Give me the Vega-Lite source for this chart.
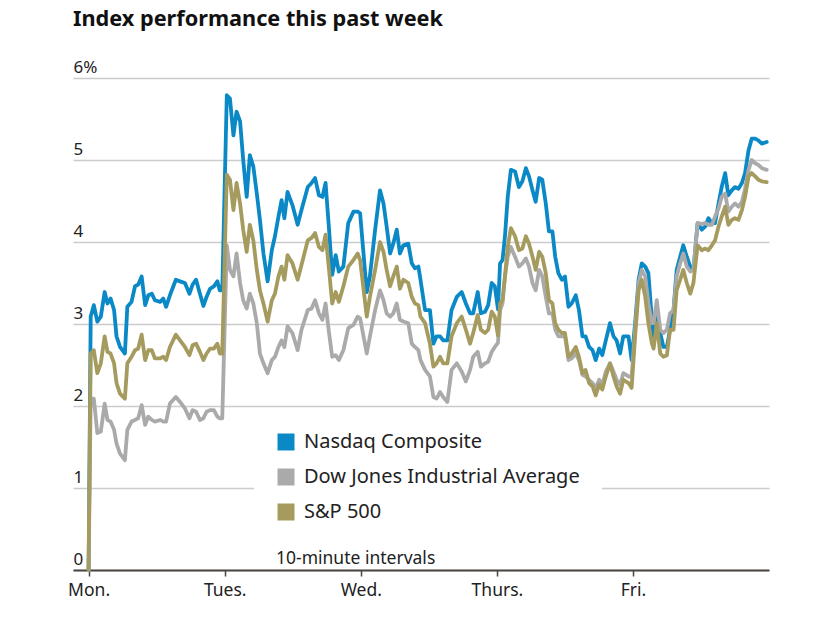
{
  "$schema": "https://vega.github.io/schema/vega-lite/v6.json",
  "autosize": "none",
  "width": 696,
  "height": 492,
  "padding": {"left": 73, "top": 78, "right": 53, "bottom": 47},
  "background": "white",
  "config": {
    "font": "Noto Sans",
    "view": {"stroke": null}
  },
  "title": {
    "text": "Index performance this past week",
    "anchor": "start",
    "frame": "group",
    "fontSize": 21.7,
    "fontWeight": "bold",
    "font": "Noto Sans",
    "color": "#111111",
    "offset": 27
  },
  "data": {
    "values": [
      {"t":0,"n":0,"d":0,"s":0},
      {"t":0.6,"n":3.09,"d":2.09,"s":2.64},
      {"t":1.5,"n":3.23,"d":2.09,"s":2.68},
      {"t":2.5,"n":3.03,"d":1.67,"s":2.40},
      {"t":3.5,"n":3.09,"d":1.69,"s":2.52},
      {"t":4.6,"n":3.39,"d":2.03,"s":2.85},
      {"t":5.4,"n":3.25,"d":1.83,"s":2.66},
      {"t":6.3,"n":3.31,"d":1.81,"s":2.64},
      {"t":7.3,"n":3.17,"d":1.71,"s":2.52},
      {"t":8.0,"n":2.85,"d":1.54,"s":2.28},
      {"t":9.0,"n":2.72,"d":1.42,"s":2.15},
      {"t":10.4,"n":2.64,"d":1.34,"s":2.09},
      {"t":11.1,"n":3.21,"d":1.71,"s":2.52},
      {"t":12.3,"n":3.27,"d":1.81,"s":2.60},
      {"t":13.3,"n":3.46,"d":1.83,"s":2.68},
      {"t":14.2,"n":3.48,"d":1.85,"s":2.70},
      {"t":15.2,"n":3.58,"d":2.01,"s":2.87},
      {"t":16.2,"n":3.23,"d":1.77,"s":2.56},
      {"t":17.1,"n":3.35,"d":1.87,"s":2.68},
      {"t":18.1,"n":3.37,"d":1.83,"s":2.68},
      {"t":19.0,"n":3.29,"d":1.81,"s":2.58},
      {"t":20.5,"n":3.27,"d":1.83,"s":2.58},
      {"t":21.4,"n":3.31,"d":1.81,"s":2.60},
      {"t":22.2,"n":3.21,"d":1.81,"s":2.56},
      {"t":23.3,"n":3.35,"d":2.03,"s":2.72},
      {"t":25.0,"n":3.54,"d":2.11,"s":2.87},
      {"t":26.2,"n":3.52,"d":2.05,"s":2.80},
      {"t":27.6,"n":3.50,"d":1.97,"s":2.72},
      {"t":28.9,"n":3.37,"d":1.85,"s":2.62},
      {"t":29.8,"n":3.48,"d":1.95,"s":2.74},
      {"t":30.8,"n":3.54,"d":1.93,"s":2.76},
      {"t":31.9,"n":3.37,"d":1.83,"s":2.66},
      {"t":32.9,"n":3.22,"d":1.85,"s":2.56},
      {"t":33.8,"n":3.33,"d":1.93,"s":2.64},
      {"t":34.8,"n":3.43,"d":1.95,"s":2.70},
      {"t":35.9,"n":3.46,"d":1.95,"s":2.70},
      {"t":36.9,"n":3.52,"d":1.87,"s":2.76},
      {"t":37.6,"n":3.41,"d":1.85,"s":2.64},
      {"t":38.3,"n":3.41,"d":1.85,"s":2.64},
      {"t":39.6,"n":5.79,"d":3.96,"s":4.82},
      {"t":40.5,"n":5.75,"d":3.66,"s":4.76},
      {"t":41.5,"n":5.30,"d":3.58,"s":4.39},
      {"t":42.4,"n":5.59,"d":3.86,"s":4.72},
      {"t":43.4,"n":5.47,"d":3.50,"s":4.47},
      {"t":44.3,"n":5.00,"d":3.29,"s":4.15},
      {"t":45.3,"n":4.55,"d":3.19,"s":3.88},
      {"t":46.2,"n":5.06,"d":3.37,"s":4.21},
      {"t":47.2,"n":4.92,"d":3.25,"s":4.02},
      {"t":48.2,"n":4.59,"d":3.01,"s":3.66},
      {"t":49.1,"n":4.27,"d":2.64,"s":3.41},
      {"t":50.1,"n":3.86,"d":2.52,"s":3.25},
      {"t":51.3,"n":3.52,"d":2.40,"s":3.03},
      {"t":52.5,"n":3.90,"d":2.56,"s":3.29},
      {"t":53.4,"n":4.07,"d":2.60,"s":3.37},
      {"t":54.4,"n":4.31,"d":2.72,"s":3.58},
      {"t":55.3,"n":4.51,"d":2.80,"s":3.70},
      {"t":56.1,"n":4.29,"d":2.72,"s":3.54},
      {"t":57.0,"n":4.61,"d":2.97,"s":3.84},
      {"t":58.4,"n":4.45,"d":2.89,"s":3.74},
      {"t":59.9,"n":4.21,"d":2.68,"s":3.54},
      {"t":61.0,"n":4.39,"d":2.93,"s":3.72},
      {"t":62.8,"n":4.67,"d":3.17,"s":4.02},
      {"t":63.9,"n":4.72,"d":3.19,"s":4.05},
      {"t":64.9,"n":4.78,"d":3.29,"s":4.11},
      {"t":66.0,"n":4.57,"d":3.13,"s":3.94},
      {"t":67.0,"n":4.55,"d":3.05,"s":3.90},
      {"t":67.9,"n":4.72,"d":3.25,"s":4.09},
      {"t":68.9,"n":4.15,"d":2.89,"s":3.66},
      {"t":69.8,"n":3.60,"d":2.60,"s":3.25},
      {"t":70.8,"n":3.84,"d":2.62,"s":3.39},
      {"t":71.7,"n":3.64,"d":2.56,"s":3.27},
      {"t":73.0,"n":3.70,"d":2.68,"s":3.46},
      {"t":74.4,"n":4.23,"d":2.95,"s":3.70},
      {"t":75.9,"n":4.37,"d":2.99,"s":3.78},
      {"t":77.1,"n":4.37,"d":3.09,"s":3.86},
      {"t":77.8,"n":4.35,"d":3.07,"s":3.78},
      {"t":79.7,"n":3.39,"d":2.64,"s":3.09},
      {"t":80.6,"n":3.58,"d":2.85,"s":3.33},
      {"t":82.1,"n":4.15,"d":3.17,"s":3.66},
      {"t":83.5,"n":4.63,"d":3.41,"s":4.00},
      {"t":84.5,"n":4.47,"d":3.29,"s":3.88},
      {"t":85.4,"n":4.19,"d":3.13,"s":3.66},
      {"t":86.4,"n":3.86,"d":3.09,"s":3.46},
      {"t":87.3,"n":3.98,"d":3.13,"s":3.58},
      {"t":88.3,"n":4.15,"d":3.25,"s":3.70},
      {"t":89.2,"n":3.86,"d":3.05,"s":3.43},
      {"t":90.2,"n":3.96,"d":3.03,"s":3.54},
      {"t":91.6,"n":3.98,"d":3.01,"s":3.50},
      {"t":92.6,"n":3.74,"d":2.76,"s":3.33},
      {"t":93.5,"n":3.68,"d":2.72,"s":3.25},
      {"t":94.5,"n":3.70,"d":2.68,"s":3.23},
      {"t":95.1,"n":3.54,"d":2.56,"s":3.09},
      {"t":96.4,"n":3.17,"d":2.44,"s":3.01},
      {"t":97.8,"n":3.17,"d":2.36,"s":2.76},
      {"t":98.8,"n":2.76,"d":2.11,"s":2.48},
      {"t":99.7,"n":2.85,"d":2.09,"s":2.52},
      {"t":100.7,"n":2.85,"d":2.17,"s":2.60},
      {"t":101.6,"n":2.80,"d":2.11,"s":2.52},
      {"t":102.8,"n":2.80,"d":2.05,"s":2.52},
      {"t":104.0,"n":3.17,"d":2.44,"s":2.85},
      {"t":105.5,"n":3.33,"d":2.52,"s":3.01},
      {"t":106.9,"n":3.39,"d":2.42,"s":3.09},
      {"t":108.1,"n":3.25,"d":2.30,"s":2.93},
      {"t":109.3,"n":3.13,"d":2.44,"s":2.76},
      {"t":110.2,"n":3.13,"d":2.60,"s":2.89},
      {"t":111.5,"n":3.39,"d":2.66,"s":3.11},
      {"t":112.4,"n":3.13,"d":2.48,"s":2.93},
      {"t":113.6,"n":3.15,"d":2.52,"s":2.89},
      {"t":114.5,"n":3.23,"d":2.54,"s":2.93},
      {"t":115.5,"n":3.50,"d":2.66,"s":3.15},
      {"t":116.4,"n":3.46,"d":2.72,"s":3.09},
      {"t":117.3,"n":3.18,"d":2.77,"s":2.86},
      {"t":117.9,"n":3.74,"d":3.17,"s":3.25},
      {"t":118.6,"n":3.78,"d":3.25,"s":3.29},
      {"t":119.3,"n":4.07,"d":3.58,"s":3.58},
      {"t":120.1,"n":4.55,"d":3.82,"s":3.94},
      {"t":121.0,"n":4.88,"d":3.94,"s":4.17},
      {"t":122.2,"n":4.86,"d":3.82,"s":4.07},
      {"t":123.3,"n":4.67,"d":3.70,"s":3.90},
      {"t":124.3,"n":4.74,"d":3.74,"s":3.92},
      {"t":125.3,"n":4.90,"d":3.80,"s":4.07},
      {"t":126.2,"n":4.80,"d":3.70,"s":3.98},
      {"t":127.2,"n":4.63,"d":3.50,"s":3.82},
      {"t":128.1,"n":4.49,"d":3.41,"s":3.66},
      {"t":129.1,"n":4.78,"d":3.66,"s":3.88},
      {"t":130.0,"n":4.76,"d":3.58,"s":3.82},
      {"t":131.0,"n":4.47,"d":3.33,"s":3.62},
      {"t":131.9,"n":4.13,"d":3.13,"s":3.29},
      {"t":132.9,"n":4.13,"d":3.13,"s":3.25},
      {"t":133.7,"n":3.82,"d":2.93,"s":3.01},
      {"t":134.6,"n":3.62,"d":2.85,"s":2.93},
      {"t":135.6,"n":3.54,"d":2.85,"s":2.89},
      {"t":136.5,"n":3.58,"d":2.85,"s":2.89},
      {"t":137.5,"n":3.21,"d":2.56,"s":2.60},
      {"t":138.4,"n":3.25,"d":2.58,"s":2.64},
      {"t":139.6,"n":3.35,"d":2.64,"s":2.72},
      {"t":140.5,"n":3.17,"d":2.56,"s":2.60},
      {"t":141.5,"n":2.85,"d":2.38,"s":2.40},
      {"t":142.4,"n":2.85,"d":2.36,"s":2.44},
      {"t":143.4,"n":2.72,"d":2.32,"s":2.28},
      {"t":144.4,"n":2.68,"d":2.28,"s":2.24},
      {"t":145.3,"n":2.56,"d":2.22,"s":2.13},
      {"t":146.3,"n":2.70,"d":2.32,"s":2.26},
      {"t":147.2,"n":2.62,"d":2.26,"s":2.20},
      {"t":148.2,"n":2.80,"d":2.42,"s":2.36},
      {"t":149.4,"n":3.01,"d":2.52,"s":2.52},
      {"t":150.4,"n":2.85,"d":2.42,"s":2.36},
      {"t":151.3,"n":2.80,"d":2.32,"s":2.24},
      {"t":152.3,"n":2.64,"d":2.26,"s":2.15},
      {"t":153.2,"n":2.85,"d":2.40,"s":2.32},
      {"t":154.7,"n":2.85,"d":2.36,"s":2.28},
      {"t":155.6,"n":2.56,"d":2.36,"s":2.22},
      {"t":156.6,"n":3.01,"d":2.93,"s":2.85},
      {"t":157.6,"n":3.54,"d":3.50,"s":3.41},
      {"t":158.5,"n":3.74,"d":3.66,"s":3.54},
      {"t":159.5,"n":3.70,"d":3.58,"s":3.33},
      {"t":160.4,"n":3.62,"d":3.25,"s":3.01},
      {"t":161.4,"n":3.05,"d":3.01,"s":2.76},
      {"t":161.9,"n":2.85,"d":3.01,"s":2.70},
      {"t":162.8,"n":3.17,"d":3.29,"s":3.01},
      {"t":163.8,"n":2.89,"d":2.93,"s":2.64},
      {"t":164.7,"n":2.72,"d":2.89,"s":2.60},
      {"t":165.7,"n":2.72,"d":2.93,"s":2.62},
      {"t":166.6,"n":2.93,"d":3.13,"s":2.93},
      {"t":167.6,"n":3.17,"d":3.17,"s":2.93},
      {"t":168.5,"n":3.66,"d":3.58,"s":3.41},
      {"t":169.5,"n":3.82,"d":3.74,"s":3.54},
      {"t":170.4,"n":3.96,"d":3.86,"s":3.66},
      {"t":171.4,"n":3.82,"d":3.70,"s":3.50},
      {"t":172.4,"n":3.70,"d":3.64,"s":3.37},
      {"t":173.3,"n":3.66,"d":3.66,"s":3.50},
      {"t":174.5,"n":4.23,"d":4.23,"s":3.96},
      {"t":175.7,"n":4.15,"d":4.22,"s":3.90},
      {"t":176.7,"n":4.19,"d":4.23,"s":3.92},
      {"t":177.6,"n":4.29,"d":4.21,"s":3.90},
      {"t":178.6,"n":4.23,"d":4.21,"s":3.96},
      {"t":179.5,"n":4.23,"d":4.31,"s":4.02},
      {"t":180.5,"n":4.47,"d":4.41,"s":4.19},
      {"t":181.4,"n":4.67,"d":4.55,"s":4.31},
      {"t":182.4,"n":4.84,"d":4.59,"s":4.43},
      {"t":183.3,"n":4.57,"d":4.37,"s":4.21},
      {"t":184.3,"n":4.63,"d":4.43,"s":4.27},
      {"t":185.2,"n":4.67,"d":4.47,"s":4.29},
      {"t":186.2,"n":4.65,"d":4.43,"s":4.27},
      {"t":187.2,"n":4.72,"d":4.49,"s":4.39},
      {"t":188.1,"n":4.84,"d":4.65,"s":4.55},
      {"t":189.1,"n":5.12,"d":4.88,"s":4.80},
      {"t":190.0,"n":5.26,"d":5.00,"s":4.84},
      {"t":191.0,"n":5.26,"d":4.96,"s":4.80},
      {"t":191.9,"n":5.24,"d":4.94,"s":4.76},
      {"t":192.9,"n":5.20,"d":4.90,"s":4.74},
      {"t":194.3,"n":5.22,"d":4.88,"s":4.73}
    ]
  },
  "layer": [
    {
      "transform": [{"fold": ["n", "d", "s"], "as": ["key", "value"]}],
      "mark": {"type": "line", "strokeWidth": 3.8, "strokeJoin": "round", "strokeCap": "round", "interpolate": "linear"},
      "encoding": {
        "x": {
          "field": "t",
          "type": "quantitative",
          "scale": {"domain": [-4.47, 194.96], "nice": false, "zero": false},
          "axis": {
            "values": [0, 39, 78, 117, 156],
            "labelExpr": "datum.value == 0 ? 'Mon.' : datum.value == 39 ? 'Tues.' : datum.value == 78 ? 'Wed.' : datum.value == 117 ? 'Thurs.' : 'Fri.'",
            "title": null,
            "grid": false,
            "domain": true,
            "domainColor": "#4a4441",
            "domainWidth": 2,
            "ticks": true,
            "tickColor": "#4a4441",
            "tickSize": 6,
            "tickWidth": 1.5,
            "labelFontSize": 17.5,
            "labelColor": "#222222",
            "labelPadding": 5,
            "labelFont": "Noto Sans"
          }
        },
        "y": {
          "field": "value",
          "type": "quantitative",
          "scale": {"domain": [0, 6], "nice": false},
          "axis": {
            "values": [0, 1, 2, 3, 4, 5, 6],
            "labelExpr": "datum.value == 6 ? '6%' : '' + datum.value",
            "title": null,
            "grid": true,
            "gridColor": "#cccccc",
            "gridWidth": 1.6,
            "domain": false,
            "ticks": false,
            "tickSize": 0,
            "labelAlign": "left",
            "labelBaseline": "alphabetic",
            "labelPadding": 0,
            "labelOffset": -6,
            "labelFontSize": 17,
            "labelColor": "#222222",
            "labelFont": "Noto Sans"
          }
        },
        "color": {
          "field": "key",
          "type": "nominal",
          "scale": {"domain": ["n", "d", "s"], "range": ["#0a89c6", "#aaaaaa", "#a59b5f"]},
          "legend": {
            "orient": "none",
            "legendX": 181,
            "legendY": 332,
            "title": null,
            "padding": 22,
            "fillColor": "white",
            "symbolType": "square",
            "symbolSize": 289,
            "symbolStrokeWidth": 0,
            "labelFontSize": 20,
            "labelFont": "Noto Sans",
            "labelColor": "#222222",
            "labelOffset": 8,
            "labelLimit": 500,
            "rowPadding": 15,
            "labelExpr": "datum.value == 'n' ? 'Nasdaq Composite' : datum.value == 'd' ? 'Dow Jones Industrial Average' : 'S&P 500'",
            "encode": {
              "symbols": {
                "update": {
                  "fill": {"scale": "color", "field": "value"},
                  "fillOpacity": {"value": 1},
                  "strokeWidth": {"value": 0}
                }
              }
            }
          }
        }
      }
    },
    {
      "data": {"values": [{"label": "10-minute intervals"}]},
      "mark": {"type": "text", "align": "left", "baseline": "alphabetic", "dy": -6, "fontSize": 17.5, "font": "Noto Sans", "color": "#222222"},
      "encoding": {
        "text": {"field": "label"},
        "x": {"datum": 53.7},
        "y": {"datum": 0}
      }
    }
  ]
}
